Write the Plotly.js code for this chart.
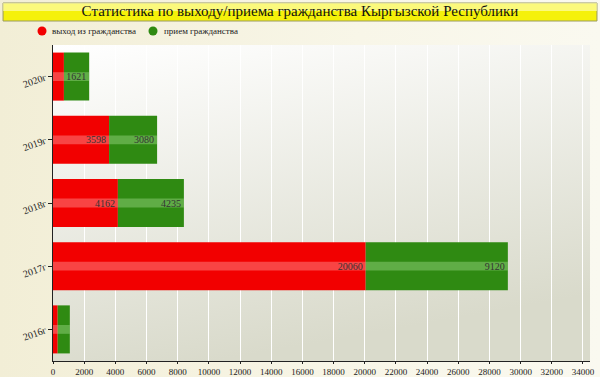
<!DOCTYPE html>
<html><head><meta charset="utf-8">
<script src="https://cdn.plot.ly/plotly-3.0.1.min.js"></script>
<style>
html,body{margin:0;padding:0;}
body{width:600px;height:377px;background:linear-gradient(90deg,#f2eed6 0%,#f8f6e8 60%,#faf9f0 100%);}
#chart{width:600px;height:377px;}
</style></head><body>
<div id="chart"></div>
<script>
const categories = ['2016г','2017г','2018г','2019г','2020г'];
const exitValues = [300, 20060, 4162, 3598, 700];
const admitValues = [780, 9120, 4235, 3080, 1621];
const exitLabels = ['', '20060', '4162', '3598', ''];
const admitLabels = ['', '9120', '4235', '3080', '1621'];
const xTicks = [0,2000,4000,6000,8000,10000,12000,14000,16000,18000,20000,22000,24000,26000,28000,30000,32000,34000];
const seriesNames = ['выход из гражданства','прием гражданства'];
const titleText = 'Статистика по выходу/приема гражданства Кыргызской Республики';

const RED = '#f20000', GREEN = '#2f8a12';
const serif = 'Liberation Serif, Times New Roman, serif';

const bgSvg = 'data:image/svg+xml;utf8,' + encodeURIComponent(
 '<svg xmlns="http://www.w3.org/2000/svg" width="100" height="100" preserveAspectRatio="none">' +
 '<defs><linearGradient id="g" x1="0" y1="0" x2="0.3" y2="1">' +
 '<stop offset="0" stop-color="#ffffff"/><stop offset="1" stop-color="#d9dacb"/></linearGradient></defs>' +
 '<rect width="100" height="100" fill="url(#g)"/></svg>');

const labelFont = {family:serif, size:10, color:'#333'};
const traces = [
 {type:'bar', orientation:'h', y:categories, x:exitValues, name:seriesNames[0], showlegend:false,
  marker:{color:RED, line:{width:0}}, width:0.76, hoverinfo:'x'},
 {type:'bar', orientation:'h', y:categories, x:admitValues, name:seriesNames[1], showlegend:false,
  marker:{color:GREEN, line:{width:0}}, width:0.76, hoverinfo:'x'},
 {type:'bar', orientation:'h', y:categories, x:exitValues, xaxis:'x2', showlegend:false, hoverinfo:'skip',
  marker:{color:'rgba(255,150,150,0.45)', line:{width:0}}, width:0.14, offset:-0.07,
  text:exitLabels, textposition:'inside', insidetextanchor:'end', textangle:0, constraintext:'none',
  textfont:labelFont, insidetextfont:labelFont},
 {type:'bar', orientation:'h', y:categories, x:admitValues, xaxis:'x2', showlegend:false, hoverinfo:'skip',
  marker:{color:'rgba(170,225,150,0.40)', line:{width:0}}, width:0.14, offset:-0.07,
  text:admitLabels, textposition:'inside', insidetextanchor:'end', textangle:0, constraintext:'none',
  textfont:labelFont, insidetextfont:labelFont}
];

const XMAX = 34450;
// custom legend (circle swatches + labels) in paper coordinates
const legendItems = [
 {name:seriesNames[0], color:RED, cx:-0.02048, tx:-0.00559},
 {name:seriesNames[1], color:GREEN, cx:0.18622, tx:0.20298}
];
const legendShapes = legendItems.map(it => ({type:'circle', xref:'paper', yref:'paper',
  x0:it.cx-0.00838, x1:it.cx+0.00838, y0:1.0301, y1:1.0585, fillcolor:it.color, line:{width:0}}));
const legendAnns = legendItems.map(it => ({xref:'paper', yref:'paper', x:it.tx, y:1.0443, xanchor:'left', yanchor:'middle',
  text:it.name, showarrow:false, font:{family:serif, size:9, color:'#222'}}));

const layout = {
 width:600, height:377,
 margin:{l:53, r:10, t:45, b:16},
 paper_bgcolor:'rgba(0,0,0,0)', plot_bgcolor:'rgba(0,0,0,0)',
 barmode:'relative', bargap:0.24, showlegend:false,
 font:{family:serif, size:9, color:'#222'},
 title:{text:titleText, font:{family:serif, size:15, color:'#111'}, x:0.5, xanchor:'center', y:0.972, yanchor:'middle'},
 xaxis:{range:[0,XMAX], tickvals:xTicks, ticktext:xTicks.map(String), showgrid:true, gridcolor:'#ffffff', gridwidth:1,
  showline:true, linecolor:'#222', linewidth:1, ticks:'outside', ticklen:2, tickcolor:'#222', zeroline:false,
  tickfont:{family:serif, size:9, color:'#222'}, fixedrange:true},
 xaxis2:{range:[0,XMAX], overlaying:'x', visible:false, fixedrange:true},
 yaxis:{categoryorder:'array', categoryarray:categories, showline:true, linecolor:'#222', linewidth:1.5,
  ticks:'outside', ticklen:4, tickcolor:'#222', tickangle:-20, showgrid:false,
  tickfont:{family:serif, size:10, color:'#222'}, fixedrange:true},
 annotations:legendAnns,
 images:[{source:bgSvg, xref:'paper', yref:'paper', x:0, y:1, sizex:1, sizey:1, xanchor:'left', yanchor:'top', sizing:'stretch', layer:'below'}],
 shapes:[
  {type:'rect', xref:'paper', yref:'paper', x0:-0.093, x1:1.013, y0:1.0 + 24/316, y1:1.0 + 42/316,
   fillcolor:'#f5f10a', line:{color:'#9a9a60', width:1}, layer:'below'},
  {type:'rect', xref:'paper', yref:'paper', x0:-0.093, x1:1.013, y0:1.0 + 34/316, y1:1.0 + 42/316,
   fillcolor:'rgba(255,255,200,0.6)', line:{width:0}, layer:'below'}
 ].concat(legendShapes)
};

Plotly.newPlot('chart', traces, layout, {displayModeBar:false, staticPlot:true});
</script></body></html>
